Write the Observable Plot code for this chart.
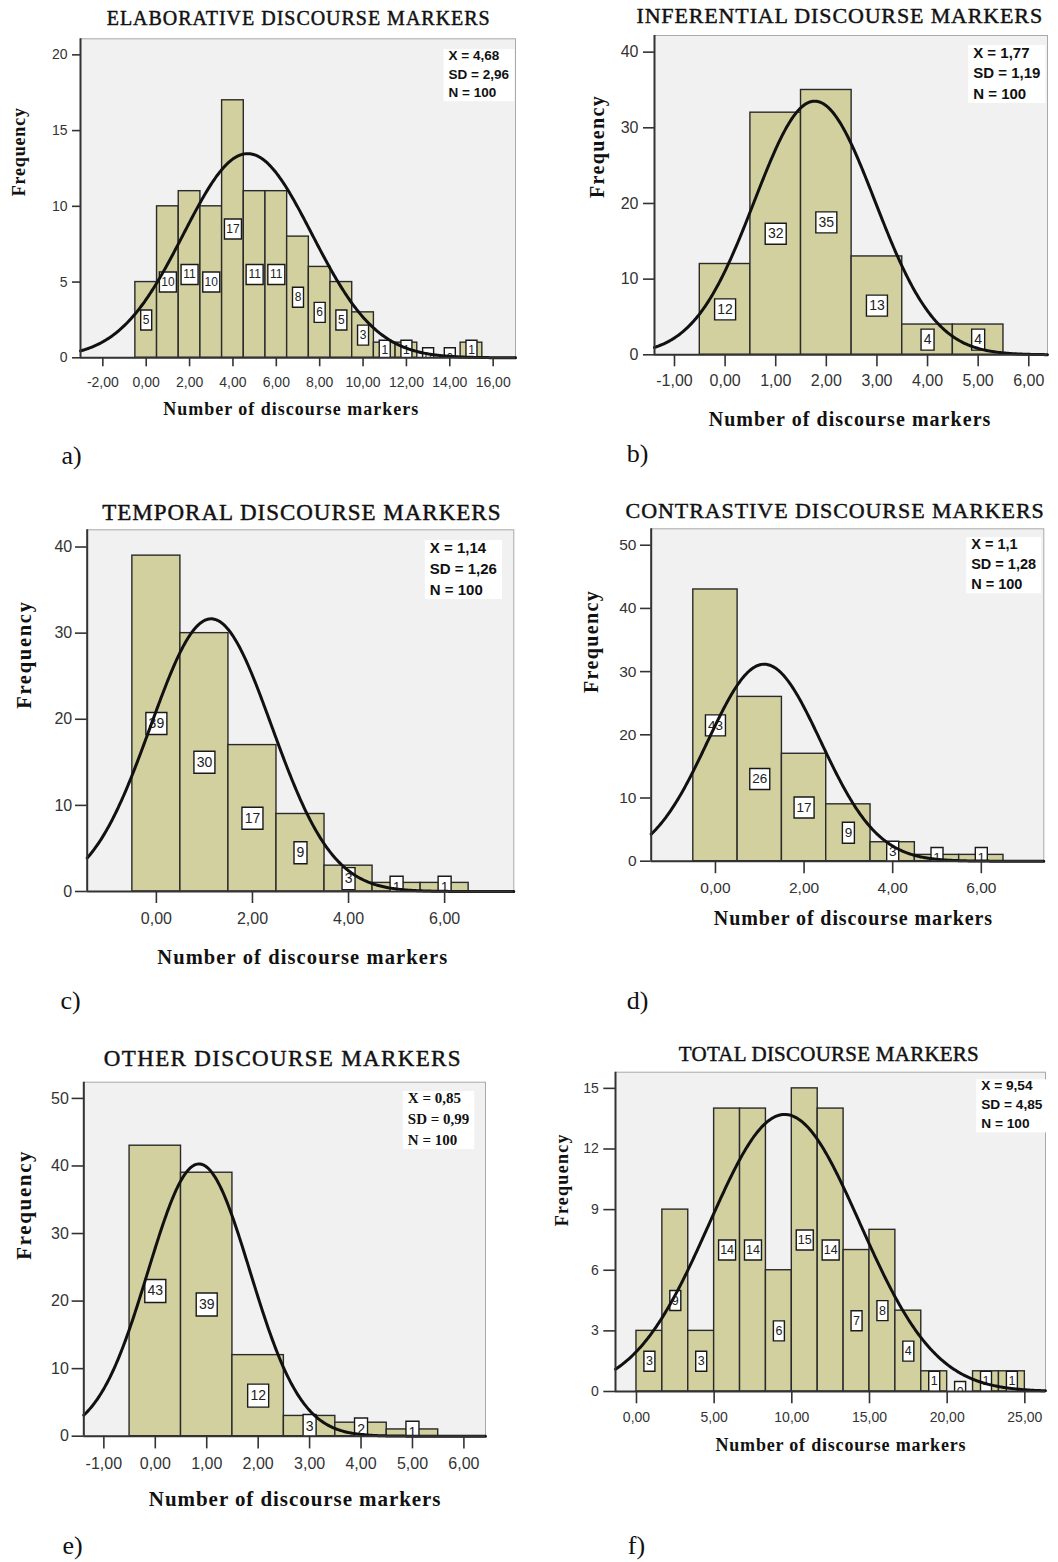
<!DOCTYPE html>
<html>
<head>
<meta charset="utf-8">
<script src="https://cdn.jsdelivr.net/npm/d3@7"></script>
<script src="https://cdn.jsdelivr.net/npm/@observablehq/plot@0.6"></script>
<style>
  html, body { margin: 0; padding: 0; background: #ffffff; }
  #root { position: relative; width: 1058px; height: 1562px; overflow: hidden; background: #ffffff; }
  #root svg { position: absolute; }
</style>
</head>
<body>
<div id="root"></div>
<script>
// ---------------- DATA ----------------
const panelTitles = [
  "ELABORATIVE DISCOURSE MARKERS",
  "INFERENTIAL DISCOURSE MARKERS",
  "TEMPORAL DISCOURSE MARKERS",
  "CONTRASTIVE DISCOURSE MARKERS",
  "OTHER DISCOURSE MARKERS",
  "TOTAL DISCOURSE MARKERS"
];
const panelLetters = ["a)", "b)", "c)", "d)", "e)", "f)"];
const yAxisLabel = "Frequency";
const xAxisLabel = "Number of discourse markers";

const elaborativeBins   = [0, 1, 2, 3, 4, 5, 6, 7, 8, 9, 10, 11, 12, 13, 14, 15];
const elaborativeCounts = [5, 10, 11, 10, 17, 11, 11, 8, 6, 5, 3, 1, 1, 0, 0, 1];

const inferentialBins   = [0, 1, 2, 3, 4, 5];
const inferentialCounts = [12, 32, 35, 13, 4, 4];

const temporalBins   = [0, 1, 2, 3, 4, 5, 6];
const temporalCounts = [39, 30, 17, 9, 3, 1, 1];

const contrastiveBins   = [0, 1, 2, 3, 4, 5, 6];
const contrastiveCounts = [43, 26, 17, 9, 3, 1, 1];

const otherBins   = [0, 1, 2, 3, 4, 5];
const otherCounts = [43, 39, 12, 3, 2, 1];

const totalBins   = [0.833, 2.5, 4.167, 5.833, 7.5, 9.167, 10.833, 12.5, 14.167, 15.833, 17.5, 19.167, 20.833, 22.5, 24.167];
const totalCounts = [3, 9, 3, 14, 14, 6, 15, 14, 7, 8, 4, 1, 0, 1, 1];

const binWidths = [1, 1, 1, 1, 1, 5 / 3];
const means = [4.68, 1.77, 1.14, 1.1, 0.85, 9.54];
const sds   = [2.96, 1.19, 1.26, 1.28, 0.99, 4.85];
const ns    = [100, 100, 100, 100, 100, 100];

const xTicksList = [
  [-2, 0, 2, 4, 6, 8, 10, 12, 14, 16],
  [-1, 0, 1, 2, 3, 4, 5, 6],
  [0, 2, 4, 6],
  [0, 2, 4, 6],
  [-1, 0, 1, 2, 3, 4, 5, 6],
  [0, 5, 10, 15, 20, 25]
];
const yTicksList = [
  [0, 5, 10, 15, 20],
  [0, 10, 20, 30, 40],
  [0, 10, 20, 30, 40],
  [0, 10, 20, 30, 40, 50],
  [0, 10, 20, 30, 40, 50],
  [0, 3, 6, 9, 12, 15]
];
const binsList = [elaborativeBins, inferentialBins, temporalBins, contrastiveBins, otherBins, totalBins];
const countsList = [elaborativeCounts, inferentialCounts, temporalCounts, contrastiveCounts, otherCounts, totalCounts];

// ---------------- LAYOUT (page pixel geometry & styles) ----------------
const layout = [
  { ox: 0, oy: 0, w: 530, h: 480, L: 80, T: 38.3, R: 515, B: 357.3, xDomain: [-3.03, 17.03], yDomain: [0, 21.06],
    xt: [9, 10, 14], yt: [8, 5, 14],
    title: [297.7, 18.5, 20, 383], ylab: [18.5, 195.8, 18, 88.3], xlab: [290.2, 409.2, 18, 255],
    stats: [448, 50, 13.5, 1.37, "sans"], box: [11, 17, 20, 12], letter: [71, 455] },
  { ox: 530, oy: 0, w: 528, h: 480, L: 654, T: 35, R: 1047, B: 354.3, xDomain: [-1.395, 6.37], yDomain: [0, 42.2],
    xt: [12, 8, 16], yt: [11, 5, 16],
    title: [838.8, 15.3, 22, 405.7], ylab: [596.7, 197.5, 20, 101.7], xlab: [849, 419.2, 20, 281.7],
    stats: [972.7, 46.7, 15, 1.37, "sans"], box: [13, 21, 21, 14], letter: [637, 453] },
  { ox: 0, oy: 480, w: 530, h: 550, L: 86.7, T: 529.3, R: 513.3, B: 891, xDomain: [-1.44, 7.44], yDomain: [0, 42.0],
    xt: [12, 9.6, 16], yt: [11.7, 3.3, 16],
    title: [300.8, 511.7, 23, 398.3], ylab: [24.2, 708.3, 20.5, 106.7], xlab: [301.7, 956.7, 20.5, 290],
    stats: [429.3, 541.7, 15, 1.4, "sans"], box: [13, 21, 22, 14], letter: [70, 1000] },
  { ox: 530, oy: 480, w: 528, h: 550, L: 650.7, T: 528.3, R: 1043.3, B: 860.7, xDomain: [-1.45, 7.41], yDomain: [0, 52.6],
    xt: [12.5, 8, 15.5], yt: [10.7, 4, 15.5],
    title: [834.2, 510.8, 22, 418.3], ylab: [590.8, 692.5, 20, 101.7], xlab: [852.5, 918.3, 20, 278.3],
    stats: [970.7, 538.3, 14.5, 1.38, "sans"], box: [12, 20, 21, 13.5], letter: [637, 1000] },
  { ox: 0, oy: 1030, w: 530, h: 532, L: 83.3, T: 1081.7, R: 485, B: 1435.7, xDomain: [-1.39, 6.42], yDomain: [0, 52.4],
    xt: [12.7, 9, 16], yt: [11.7, 3.3, 16],
    title: [281.7, 1058.3, 23, 356.7], ylab: [24.2, 1259.2, 21, 108.3], xlab: [294.2, 1499.2, 21, 291.7],
    stats: [407.3, 1091.7, 15, 1.4, "serif"], box: [13, 21, 23, 14], letter: [72, 1545] },
  { ox: 530, oy: 1030, w: 528, h: 532, L: 615, T: 1071.7, R: 1045, B: 1391, xDomain: [-1.35, 26.33], yDomain: [0, 15.8],
    xt: [12.3, 8.4, 14], yt: [11.7, 5, 14],
    title: [828.3, 1054.2, 21, 300], ylab: [561.7, 1225.8, 18, 91.7], xlab: [840, 1445, 18, 250],
    stats: [980.7, 1080, 13.7, 1.39, "sans"], box: [11, 17, 20, 12.5], letter: [636, 1545] }
];

const SERIF = "'Liberation Serif', 'Times New Roman', serif";
const SANS = "'Liberation Sans', Arial, sans-serif";
const BAR_FILL = "#d3d0a0";
const BG = "#f1f1f1";

const fmtComma = v => String(v).replace(".", ",");
const tickFmt = v => v.toFixed(2).replace(".", ",");
const boxSymbol = (w, h) => ({
  draw(ctx) {
    ctx.moveTo(-w / 2, -h / 2);
    ctx.lineTo(w / 2, -h / 2);
    ctx.lineTo(w / 2, h / 2);
    ctx.lineTo(-w / 2, h / 2);
    ctx.closePath();
  }
});

const root = document.getElementById("root");

layout.forEach((p, k) => {
  const bw = binWidths[k];
  const rows = binsList[k].map((c, i) => ({ xc: c, x1: c - bw / 2, x2: c + bw / 2, n: countsList[k][i] }));
  const [x0, x1] = p.xDomain;
  const mean = means[k], sd = sds[k], N = ns[k];
  const peak = N * bw / (sd * Math.sqrt(2 * Math.PI));
  const curve = d3.range(401).map(i => {
    const x = x0 + (x1 - x0) * i / 400;
    return { x, y: peak * Math.exp(-0.5 * ((x - mean) / sd) ** 2) };
  });

  const ml = p.L - p.ox, mt = p.T - p.oy, mr = p.ox + p.w - p.R, mb = p.oy + p.h - p.B;
  const fcx = (p.L + p.R) / 2, fcy = (p.T + p.B) / 2;
  const [sx, sTop, sfs, slh, sfont] = p.stats;
  const statsText = `X = ${fmtComma(mean)}\nSD = ${fmtComma(sd)}\nN = ${N}`;
  const statsDy = sTop - p.T - (0.71 * slh - 0.716) * sfs;
  const [w1, w2, bh, bfs] = p.box;

  const svg = Plot.plot({
    width: p.w, height: p.h,
    marginLeft: ml, marginRight: mr, marginTop: mt, marginBottom: mb,
    x: { domain: p.xDomain },
    y: { domain: p.yDomain },
    style: { fontFamily: SANS, color: "#222", background: "transparent", overflow: "visible" },
    marks: [
      Plot.frame({ fill: BG, stroke: "#a9a9a9", strokeWidth: 1 }),
      Plot.rect(rows.filter(d => d.n > 0), { x1: "x1", x2: "x2", y1: 0, y2: "n", fill: BAR_FILL, stroke: "#2a2a2a", strokeWidth: 1.4 }),
      Plot.dot(rows.filter(d => String(d.n).length === 1), { x: "xc", y: d => d.n / 2, r: 4, symbol: boxSymbol(w1, bh), fill: "white", stroke: "#1a1a1a", strokeWidth: 1.4, clip: true }),
      Plot.dot(rows.filter(d => String(d.n).length === 2), { x: "xc", y: d => d.n / 2, r: 4, symbol: boxSymbol(w2, bh), fill: "white", stroke: "#1a1a1a", strokeWidth: 1.4, clip: true }),
      Plot.text(rows, { x: "xc", y: d => d.n / 2, text: d => String(d.n), fontSize: bfs, fill: "#222", clip: true }),
      Plot.line(curve, { x: "x", y: "y", stroke: "#111", strokeWidth: 3 }),
      Plot.ruleY([0], { stroke: "#333", strokeWidth: 2 }),
      Plot.ruleX([x0], { stroke: "#333", strokeWidth: 2 }),
      Plot.axisX({ ticks: xTicksList[k], tickFormat: tickFmt, tickSize: p.xt[0], tickPadding: p.xt[1], fontSize: p.xt[2], color: "#333", strokeWidth: 1.6, label: null }),
      Plot.axisY({ ticks: yTicksList[k], tickFormat: d => String(d), tickSize: p.yt[0], tickPadding: p.yt[1], fontSize: p.yt[2], color: "#333", strokeWidth: 1.6, label: null }),
      Plot.text([panelTitles[k]], { frameAnchor: "top", dx: p.title[0] - fcx, dy: p.title[1] - p.T, lineAnchor: "middle", fontFamily: SERIF, fontSize: p.title[2], fill: "#111", stroke: "#111", strokeWidth: 0.45 }),
      Plot.text([yAxisLabel], { frameAnchor: "left", dx: p.ylab[0] - p.L, dy: p.ylab[1] - fcy, rotate: -90, lineAnchor: "middle", fontFamily: SERIF, fontWeight: "bold", fontSize: p.ylab[2], fill: "#111" }),
      Plot.text([xAxisLabel], { frameAnchor: "bottom", dx: p.xlab[0] - fcx, dy: p.xlab[1] - p.B, lineAnchor: "middle", fontFamily: SERIF, fontWeight: "bold", fontSize: p.xlab[2], fill: "#111" }),
      Plot.text([panelLetters[k]], { frameAnchor: "bottom-left", dx: p.letter[0] - p.L, dy: p.letter[1] - p.B, textAnchor: "middle", lineAnchor: "middle", fontFamily: SERIF, fontSize: 26, fill: "#111" }),
      Plot.text([statsText], { frameAnchor: "top-left", dx: sx - p.L, dy: statsDy, textAnchor: "start", lineAnchor: "top", lineHeight: slh, fontFamily: sfont === "serif" ? SERIF : SANS, fontWeight: "bold", fontSize: sfs, fill: "#111" })
    ]
  });

  svg.style.left = p.ox + "px";
  svg.style.top = p.oy + "px";
  svg.style.maxWidth = "none";
  root.appendChild(svg);

  // exact text lengths for title and axis labels
  const lengths = new Map([[panelTitles[k], p.title[3]], [yAxisLabel, p.ylab[3]], [xAxisLabel, p.xlab[3]]]);
  svg.querySelectorAll("text").forEach(t => {
    const L = lengths.get(t.textContent);
    if (L) { t.setAttribute("textLength", L); t.setAttribute("lengthAdjust", "spacing"); }
  });

  // white box behind the stats text (same transform as the text element)
  svg.querySelectorAll("text").forEach(t => {
    if (t.textContent.includes("SD =")) {
      const bb = t.getBBox();
      const rect = document.createElementNS("http://www.w3.org/2000/svg", "rect");
      rect.setAttribute("x", bb.x - 5);
      rect.setAttribute("y", bb.y + 1);
      rect.setAttribute("width", bb.width + 10);
      rect.setAttribute("height", bb.height);
      rect.setAttribute("fill", "#ffffff");
      const tr = t.getAttribute("transform");
      if (tr) rect.setAttribute("transform", tr);
      t.parentNode.insertBefore(rect, t);
    }
  });
});
</script>
</body>
</html>
